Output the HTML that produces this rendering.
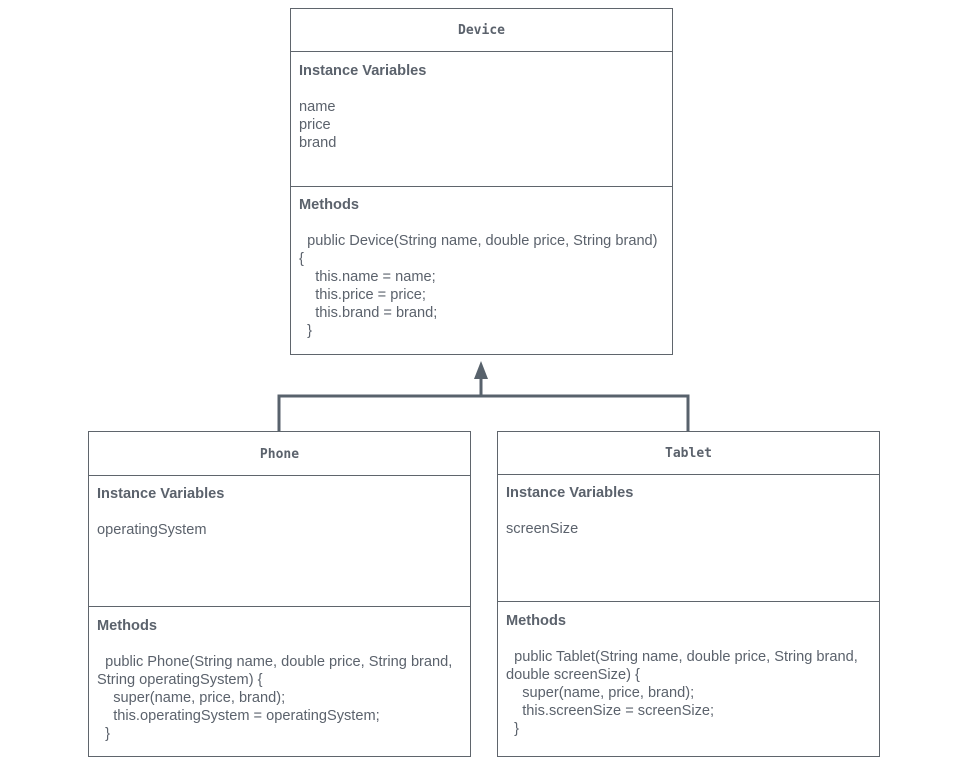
<!DOCTYPE html>
<html><head><meta charset="utf-8"><style>
body{margin:0;width:968px;height:782px;background:#fff;position:relative;overflow:hidden;font-family:"Liberation Sans",sans-serif;color:#5b626c}
.b{position:absolute;border:1px solid #5f656c;background:#fff;box-sizing:border-box}
.h{position:absolute;left:0;right:0;height:0;border-top:1px solid #5f656c}
.t{position:absolute;font-size:14.6px;line-height:18px;white-space:pre}
.bold{font-weight:bold}
.m{position:absolute;font-family:"DejaVu Sans Mono","Liberation Mono",monospace;font-weight:bold;font-size:13px;line-height:18px;text-align:center}
</style></head><body>
<svg style="position:absolute;left:0;top:0" width="968" height="782">
<path d="M279 431 V396 H688 V431 M481 396 V376" stroke="#58626c" stroke-width="3" fill="none"/>
<polygon points="481,361 474,379 488,379" fill="#58626c"/>
</svg>
<div class="b" style="left:290px;top:8px;width:383px;height:347px">
<div class="h" style="top:42px"></div><div class="h" style="top:177px"></div>
<div class="m" style="left:0;right:0;top:13px">Device</div>
</div>
<div class="b" style="left:88px;top:431px;width:383px;height:326px">
<div class="h" style="top:43px"></div><div class="h" style="top:174px"></div>
<div class="m" style="left:0;right:0;top:14px">Phone</div>
</div>
<div class="b" style="left:497px;top:431px;width:383px;height:326px">
<div class="h" style="top:42px"></div><div class="h" style="top:169px"></div>
<div class="m" style="left:0;right:0;top:13px">Tablet</div>
</div>

<div class="t bold" style="left:299px;top:62px">Instance Variables</div>
<div class="t" style="left:299px;top:98px">name
price
brand</div>
<div class="t bold" style="left:299px;top:196px">Methods</div>
<div class="t" style="left:299px;top:232px">  public Device(String name, double price, String brand)
{
    this.name = name;
    this.price = price;
    this.brand = brand;
  }</div>

<div class="t bold" style="left:97px;top:485px">Instance Variables</div>
<div class="t" style="left:97px;top:521px">operatingSystem</div>
<div class="t bold" style="left:97px;top:617px">Methods</div>
<div class="t" style="left:97px;top:653px">  public Phone(String name, double price, String brand,
String operatingSystem) {
    super(name, price, brand);
    this.operatingSystem = operatingSystem;
  }</div>

<div class="t bold" style="left:506px;top:484px">Instance Variables</div>
<div class="t" style="left:506px;top:520px">screenSize</div>
<div class="t bold" style="left:506px;top:612px">Methods</div>
<div class="t" style="left:506px;top:648px">  public Tablet(String name, double price, String brand,
double screenSize) {
    super(name, price, brand);
    this.screenSize = screenSize;
  }</div>
</body></html>
